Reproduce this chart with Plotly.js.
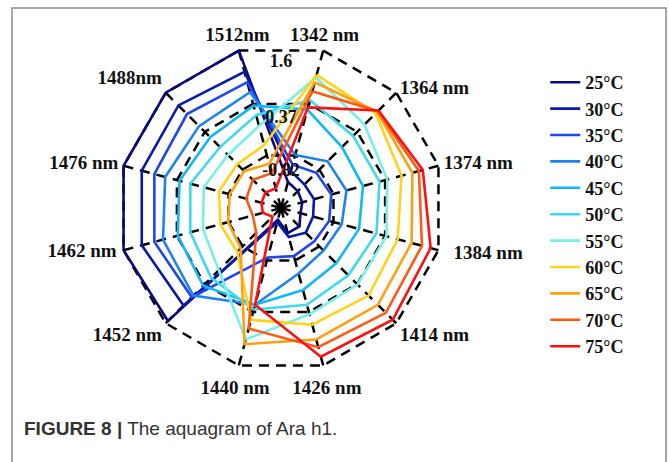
<!DOCTYPE html>
<html><head><meta charset="utf-8">
<script src="https://cdn.plot.ly/plotly-3.0.1.min.js"></script>
<style>html,body{margin:0;padding:0;background:#fff}#chart{width:669px;height:462px}</style>
</head><body><div id="chart"></div>
<script>
const wavelengths = ['1342 nm','1364 nm','1374 nm','1384 nm','1414 nm','1426 nm','1440 nm','1452 nm','1462 nm','1476 nm','1488nm','1512nm'];
const temperatures = ['25°C','30°C','35°C','40°C','45°C','50°C','55°C','60°C','65°C','70°C','75°C'];
const colors = ['#0a0a78','#0a1aa8','#1e46f0','#1e82f0','#10b8f8','#40d8f0','#78f0e8','#ffd21e','#ffa012','#ff5a14','#ff1010'];
const radialTicks = [-0.82, 0.37, 1.6];
const radialTickText = ['-0.82', '0.37', '1.6'];

const t25 = [-1.43, -1.50, -1.54, -1.58, -1.45, -1.45, -1.76, 1.53, 1.60, 1.60, 1.60, 1.60];
const t30 = [-1.18, -1.29, -1.27, -1.29, -1.25, -1.36, -1.70, 1.04, 1.18, 1.18, 1.20, 1.11];
const t35 = [-1.03, -0.92, -0.87, -0.92, -0.98, -0.92, -0.89, 0.78, 0.89, 0.89, 0.93, 0.87];
const t40 = [-0.81, -0.56, -0.52, -0.63, -0.69, -0.52, 0.20, 0.73, 0.69, 0.64, 0.55, 0.64];
const t45 = [0.24, -0.11, -0.14, -0.23, -0.29, -0.14, 0.20, 0.42, 0.35, 0.31, 0.20, 0.33];
const t50 = [0.46, 0.24, 0.24, 0.17, 0.09, 0.20, 0.31, 0.17, 0.06, 0.06, -0.11, 0.11];
const t55 = [0.98, 0.60, 0.42, 0.40, 0.38, 0.42, 1.00, -0.07, -0.23, -0.25, -0.36, -0.14];
const t60 = [1.04, 0.95, 0.75, 0.66, 0.73, 0.66, 0.55, -0.65, -0.63, -0.60, -0.65, -0.58];
const t65 = [0.87, 1.00, 1.00, 0.98, 1.02, 1.00, 1.11, -0.76, -0.81, -0.85, -0.87, -1.01];
const t70 = [0.66, 1.02, 1.15, 1.22, 1.27, 1.18, 0.75, -1.25, -1.38, -1.23, -1.14, -1.23];
const t75 = [0.29, 1.04, 1.24, 1.42, 1.49, 1.40, 0.20, -1.76, -1.61, -1.58, -1.54, -1.58];

const series = [t25, t30, t35, t40, t45, t50, t55, t60, t65, t70, t75];

// ---- layout / style settings (not data) ----
const rMin = -2.03, rMax = 1.65, rOuter = 2.0;   // polar3 spans a wider range at the same scale
const labelR = [1.72, 1.72, 1.72, 1.95, 1.72, 1.92, 1.92, 1.72, 1.76, 1.72, 1.72, 1.72];
const tickLabelDrop = 0.2;                       // radial labels drawn a bit below their ring
const labelPos = ['top center','middle right','middle right','middle right','bottom right','bottom center',
                  'bottom center','bottom left','middle left','middle left','top left','top center'];
const serif = {family: 'Liberation Serif, Times New Roman, serif', color: '#111', weight: 'bold'};

const cx = 281, cy = 208, pxPerUnit = 163 / (1.6 - rMin), W = 669, H = 462;
function domainFor(rTop) {
  const R = (rTop - rMin) * pxPerUnit;
  return {x: [(cx - R) / W, (cx + R) / W], y: [1 - (cy + R) / H, 1 - (cy - R) / H]};
}

const traces = series.map((vals, i) => ({
  type: 'scatterpolar',
  mode: 'lines',
  r: vals.concat([vals[0]]),
  theta: wavelengths.concat([wavelengths[0]]),
  name: temperatures[i],
  line: {color: colors[i], width: 2.6},
  hoverinfo: 'skip'
}));

traces.push({
  type: 'scatterpolar', mode: 'text', subplot: 'polar2',
  r: radialTicks.map(v => v - tickLabelDrop),
  theta: radialTicks.map(() => 0),
  text: radialTickText,
  textposition: 'bottom center',
  textfont: Object.assign({size: 18}, serif),
  cliponaxis: false, showlegend: false, hoverinfo: 'skip'
});

traces.push({
  type: 'scatterpolar', mode: 'text', subplot: 'polar3',
  r: labelR,
  theta: wavelengths,
  text: wavelengths,
  textposition: labelPos,
  textfont: Object.assign({size: 19}, serif),
  cliponaxis: false, showlegend: false, hoverinfo: 'skip'
});

const layout = {
  width: W, height: H,
  margin: {l: 0, r: 0, t: 0, b: 0},
  paper_bgcolor: '#fff',
  showlegend: true,
  legend: {
    x: 0.815, y: 1 - 64/462, xanchor: 'left', yanchor: 'top',
    font: Object.assign({size: 18}, serif),
    tracegroupgap: 0, bgcolor: 'rgba(0,0,0,0)'
  },
  polar: {
    domain: domainFor(rMax),
    gridshape: 'linear',
    bgcolor: '#fff',
    angularaxis: {
      type: 'category', categoryarray: wavelengths,
      direction: 'clockwise', rotation: 75,
      showline: false, showgrid: true,
      gridcolor: '#000', gridwidth: 2.5, griddash: '10px,7px',
      ticks: '', showticklabels: false
    },
    radialaxis: {
      range: [rMin, rMax], angle: 90,
      tickvals: radialTicks,
      showline: false, ticks: '', showgrid: true,
      gridcolor: '#000', gridwidth: 2.5, griddash: '10px,7px',
      showticklabels: false
    }
  },
  polar2: {
    domain: domainFor(rMax),
    bgcolor: 'rgba(0,0,0,0)',
    angularaxis: {visible: false, direction: 'clockwise', rotation: 90, showgrid: false, showline: false, ticks: ''},
    radialaxis: {visible: false, range: [rMin, rMax], showgrid: false, showline: false, ticks: ''}
  },
  polar3: {
    domain: domainFor(rOuter),
    bgcolor: 'rgba(0,0,0,0)',
    angularaxis: {visible: false, type: 'category', categoryarray: wavelengths,
                  direction: 'clockwise', rotation: 75, showgrid: false, showline: false, ticks: ''},
    radialaxis: {visible: false, range: [rMin, rOuter], showgrid: false, showline: false, ticks: ''}
  },
  shapes: [{
    type: 'rect', xref: 'paper', yref: 'paper',
    x0: 12/669, x1: 666/669, y0: -0.2, y1: 1 - 8/462,
    line: {color: '#8a8a8a', width: 1.5}
  }],
  annotations: [{
    xref: 'paper', yref: 'paper', x: 22/669, y: 1 - 428/462,
    xanchor: 'left', yanchor: 'middle', showarrow: false,
    text: '<b>FIGURE 8 |</b> The aquagram of Ara h1.',
    font: {family: 'Liberation Sans Narrow, Arial Narrow, sans-serif', size: 19, color: '#333'}
  }]
};

Plotly.newPlot('chart', traces, layout, {displayModeBar: false, staticPlot: true});
</script></body></html>
